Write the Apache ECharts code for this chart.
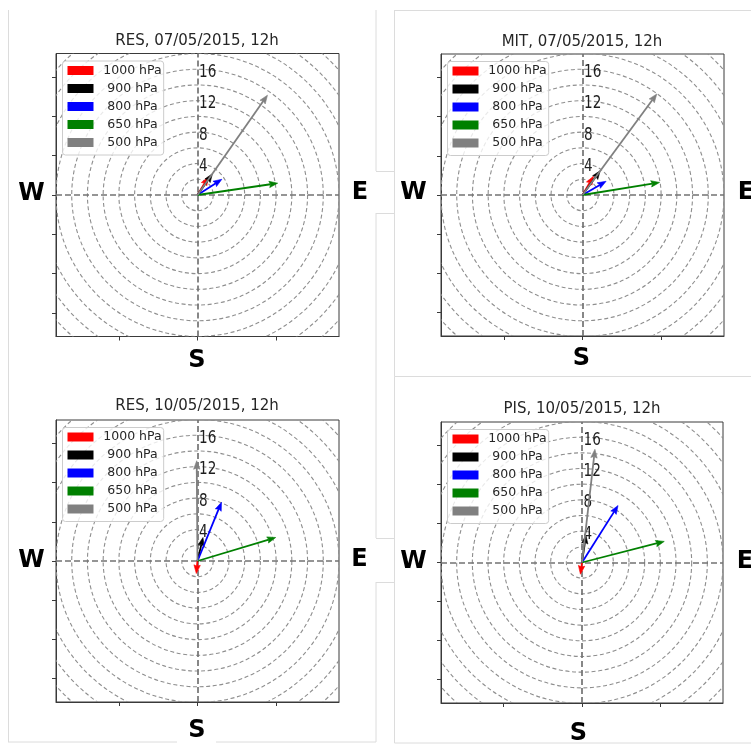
<!DOCTYPE html>
<html>
<head>
<meta charset="utf-8">
<script src="https://cdn.jsdelivr.net/npm/echarts@6/dist/echarts.min.js"></script>
<style>
html,body{margin:0;padding:0;background:#fff;}
#chart{width:751px;height:745px;}
</style>
</head>
<body>
<div id="chart"></div>
<script>
// ---------------- data ----------------
const levels = ['1000 hPa', '900 hPa', '800 hPa', '650 hPa', '500 hPa'];
const levelColors = ['#ff0000', '#000000', '#0000ff', '#008000', '#808080'];
const titles = ['RES, 07/05/2015, 12h', 'MIT, 07/05/2015, 12h', 'RES, 10/05/2015, 12h', 'PIS, 10/05/2015, 12h'];
// wind components (u = eastward, v = northward), one value per level
const uRES07 = [1.4, 1.9, 3.1, 10.2, 8.9];
const vRES07 = [2.3, 2.7, 2.0, 1.5, 12.7];
const uMIT07 = [1.4, 2.25, 3.0, 9.8, 9.45];
const vMIT07 = [2.4, 3.1, 1.75, 1.6, 12.9];
const uRES10 = [-0.15, 0.7, 3.05, 9.95, -0.1];
const vRES10 = [-1.6, 3.0, 7.5, 3.0, 12.8];
const uPIS10 = [-0.2, 0.5, 4.6, 10.5, 1.65];
const vPIS10 = [-1.5, 3.5, 7.3, 2.7, 14.5];
const ringRadii = [2, 4, 6, 8, 10, 12, 14, 16, 18, 20, 22, 24, 26];
const ringLabels = [4, 8, 12, 16];
const xTicks = [-10, 0, 10];
const yTicks = [-15, -10, -5, 0, 5, 10, 15];
const axisMin = -18, axisMax = 18;

// ---------------- layout ----------------
const FONT = 'DejaVu Sans';
const panels = [
  {u: uRES07, v: vRES07, grid: {left: 56, top: 53.5, width: 283, height: 283}, title: [197, 41], W: [31.5, 194], E: [360, 193], S: [197, 361]},
  {u: uMIT07, v: vMIT07, grid: {left: 441, top: 54, width: 283, height: 282}, title: [582, 42], W: [413.5, 193], E: [746, 193], S: [581.5, 359]},
  {u: uRES10, v: vRES10, grid: {left: 56, top: 420, width: 283, height: 282}, title: [197, 406], W: [31.5, 561], E: [359.5, 559.5], S: [197, 730.5]},
  {u: uPIS10, v: vPIS10, grid: {left: 441, top: 422, width: 282, height: 281}, title: [582, 409], W: [413.5, 562], E: [745, 562], S: [578.5, 734]}
];

function arrowRenderer(color) {
  return function (params, api) {
    const o = api.coord([0, 0]);
    const t = api.coord([api.value(0), api.value(1)]);
    const dx = t[0] - o[0], dy = t[1] - o[1];
    const L = Math.hypot(dx, dy) || 1;
    const ux = dx / L, uy = dy / L, px = -uy, py = ux;
    const hl = Math.min(8.5, L), hw = 3.2, notch = hl * 0.85;
    const bx = t[0] - ux * hl, by = t[1] - uy * hl;
    const nx = t[0] - ux * notch, ny = t[1] - uy * notch;
    return {
      type: 'group',
      children: [
        {type: 'line', shape: {x1: o[0], y1: o[1], x2: nx, y2: ny}, style: {stroke: color, lineWidth: 1.8}},
        {type: 'polygon', shape: {points: [[t[0], t[1]], [bx + px * hw, by + py * hw], [nx, ny], [bx - px * hw, by - py * hw]]},
          style: {fill: color, stroke: color, lineWidth: 0.6}}
      ]
    };
  };
}

function ringRenderer(params, api) {
  const c = api.coord([0, 0]);
  const e = api.coord([api.value(0), 0]);
  return {
    type: 'circle',
    shape: {cx: c[0], cy: c[1], r: Math.abs(e[0] - c[0])},
    style: {fill: 'none', stroke: '#8e8e8e', lineWidth: 1.1, lineDash: [4, 2.6]}
  };
}

function ringLabelRenderer(params, api) {
  const p = api.coord([0, api.value(0)]);
  return {
    type: 'text',
    x: p[0] + 1.5,
    y: p[1] + 3,
    scaleX: 0.8,
    style: {text: String(api.value(0)), font: '17px ' + FONT, fill: '#1e1e1e', align: 'left', verticalAlign: 'middle'}
  };
}

const grids = [], xAxes = [], yAxes = [], series = [], legends = [], graphics = [];

// frame lines of the composite picture
const frameColor = '#dcdcdc';
const frameLines = [
  [8.5, 10, 8.5, 742], [8, 742, 177, 742], [216, 742, 376, 742],
  [376, 10, 376, 742],
  [394.5, 10.5, 751, 10.5], [394.5, 10, 394.5, 743], [394.5, 376.5, 751, 376.5], [394.5, 743, 751, 743]
];
frameLines.forEach(l => graphics.push({type: 'line', z: 0, shape: {x1: l[0], y1: l[1], x2: l[2], y2: l[3]}, style: {stroke: frameColor, lineWidth: 1}}));
[[171, 213], [538, 582]].forEach(b => {
  graphics.push({type: 'rect', z: 1, shape: {x: 375, y: b[0], width: 19, height: b[1] - b[0]}, style: {fill: '#fff'}});
  graphics.push({type: 'line', z: 1, shape: {x1: 376, y1: b[0] + 0.5, x2: 395, y2: b[0] + 0.5}, style: {stroke: frameColor}});
  graphics.push({type: 'line', z: 1, shape: {x1: 376, y1: b[1] + 0.5, x2: 395, y2: b[1] + 0.5}, style: {stroke: frameColor}});
});

panels.forEach((p, i) => {
  grids.push(Object.assign({show: true, borderColor: '#3a3a3a', borderWidth: 1, backgroundColor: '#fff', containLabel: false}, p.grid));
  xAxes.push({
    type: 'value', gridIndex: i, min: axisMin, max: axisMax,
    axisLine: {show: true, onZero: false, lineStyle: {color: '#3a3a3a'}},
    axisTick: {show: true, length: 4, customValues: xTicks, lineStyle: {color: '#3a3a3a'}},
    axisLabel: {show: false}, splitLine: {show: false}
  });
  yAxes.push({
    type: 'value', gridIndex: i, min: axisMin, max: axisMax,
    axisLine: {show: true, onZero: false, lineStyle: {color: '#3a3a3a'}},
    axisTick: {show: true, length: 4, customValues: yTicks, lineStyle: {color: '#3a3a3a'}},
    axisLabel: {show: false}, splitLine: {show: false}
  });
  // dashed rings + central cross
  series.push({
    type: 'custom', name: 'rings' + i, xAxisIndex: i, yAxisIndex: i, clip: true, silent: true, z: 1,
    renderItem: ringRenderer, data: ringRadii.map(r => [r]),
    markLine: {
      silent: true, symbol: ['none', 'none'], label: {show: false}, animation: false,
      lineStyle: {color: '#737373', type: [6, 3], width: 1.7},
      data: [{xAxis: 0}, {yAxis: 0}]
    }
  });
  series.push({
    type: 'custom', name: 'ringLabels' + i, xAxisIndex: i, yAxisIndex: i, silent: true, z: 3,
    renderItem: ringLabelRenderer, data: ringLabels.map(r => [r])
  });
  levels.forEach((lv, k) => {
    series.push({
      type: 'custom', name: lv, xAxisIndex: i, yAxisIndex: i, z: 5 + k,
      itemStyle: {color: levelColors[k]},
      renderItem: arrowRenderer(levelColors[k]),
      data: [[p.u[k], p.v[k]]]
    });
  });
  legends.push({
    left: p.grid.left + 6.5, top: p.grid.top + 7.5, orient: 'vertical', selectedMode: false,
    icon: 'rect', itemWidth: 26, itemHeight: 9, itemGap: 5, padding: [3, 2, 6, 5],
    backgroundColor: 'rgba(255,255,255,0.8)', borderColor: '#cccccc', borderWidth: 1, borderRadius: 3,
    data: levels.map((n, k) => ({name: n, itemStyle: {color: levelColors[k]}})),
    formatter: n => '{c|' + n + '}',
    textStyle: {fontFamily: FONT, fontSize: 12.5, color: '#262626',
      rich: {c: {width: 68, height: 14, align: 'center', fontFamily: FONT, fontSize: 12.5, color: '#262626'}}}
  });
  graphics.push({type: 'text', z: 10, x: p.title[0], y: p.title[1],
    style: {text: titles[i], font: '15px ' + FONT, fill: '#262626', align: 'center', verticalAlign: 'middle'}});
  [['W', p.W], ['E', p.E], ['S', p.S]].forEach(c => graphics.push({type: 'text', z: 10, x: c[1][0], y: c[1][1],
    style: {text: c[0], font: 'bold 24px ' + FONT, fill: '#000', align: 'center', verticalAlign: 'middle'}}));
});

const chart = echarts.init(document.getElementById('chart'), null, {renderer: 'canvas'});
chart.setOption({
  animation: false,
  backgroundColor: '#fff',
  grid: grids, xAxis: xAxes, yAxis: yAxes,
  legend: legends,
  graphic: {elements: graphics},
  series: series
});
</script>
</body>
</html>
